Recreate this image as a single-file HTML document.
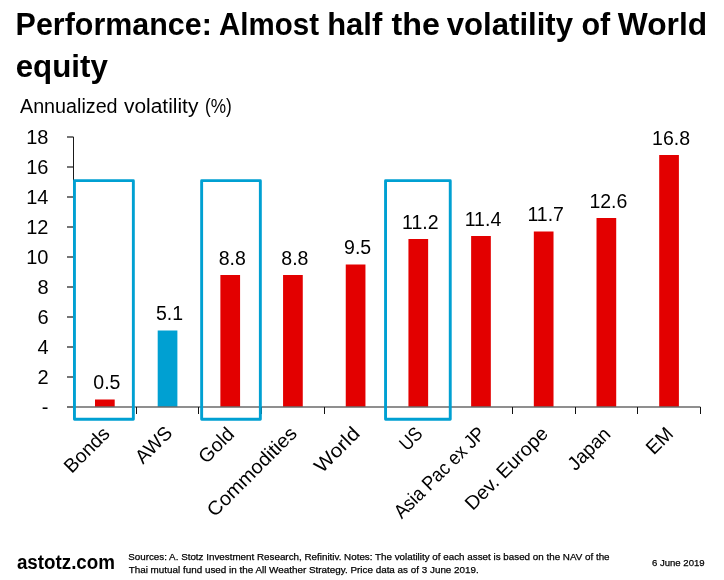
<!DOCTYPE html>
<html><head><meta charset="utf-8"><style>
html,body{margin:0;padding:0;background:#fff;}
body{width:724px;height:580px;overflow:hidden;position:relative;}
svg{position:absolute;left:0;top:0;will-change:transform;}
text{font-family:"Liberation Sans", sans-serif;fill:#000;}
</style></head><body>
<svg width="724" height="580" viewBox="0 0 724 580">
<line x1="67" y1="407.00" x2="73.5" y2="407.00" stroke="#3a3a3a" stroke-width="1.4"/>
<line x1="67" y1="377.00" x2="73.5" y2="377.00" stroke="#3a3a3a" stroke-width="1.4"/>
<line x1="67" y1="347.00" x2="73.5" y2="347.00" stroke="#3a3a3a" stroke-width="1.4"/>
<line x1="67" y1="317.00" x2="73.5" y2="317.00" stroke="#3a3a3a" stroke-width="1.4"/>
<line x1="67" y1="287.00" x2="73.5" y2="287.00" stroke="#3a3a3a" stroke-width="1.4"/>
<line x1="67" y1="257.00" x2="73.5" y2="257.00" stroke="#3a3a3a" stroke-width="1.4"/>
<line x1="67" y1="227.00" x2="73.5" y2="227.00" stroke="#3a3a3a" stroke-width="1.4"/>
<line x1="67" y1="197.00" x2="73.5" y2="197.00" stroke="#3a3a3a" stroke-width="1.4"/>
<line x1="67" y1="167.00" x2="73.5" y2="167.00" stroke="#3a3a3a" stroke-width="1.4"/>
<line x1="67" y1="137.00" x2="73.5" y2="137.00" stroke="#3a3a3a" stroke-width="1.4"/>
<rect x="95.00" y="399.50" width="19.7" height="7.50" fill="#e30000"/>
<rect x="157.69" y="330.50" width="19.7" height="76.50" fill="#00a0d2"/>
<rect x="220.38" y="275.00" width="19.7" height="132.00" fill="#e30000"/>
<rect x="283.06" y="275.00" width="19.7" height="132.00" fill="#e30000"/>
<rect x="345.75" y="264.50" width="19.7" height="142.50" fill="#e30000"/>
<rect x="408.44" y="239.00" width="19.7" height="168.00" fill="#e30000"/>
<rect x="471.13" y="236.00" width="19.7" height="171.00" fill="#e30000"/>
<rect x="533.82" y="231.50" width="19.7" height="175.50" fill="#e30000"/>
<rect x="596.51" y="218.00" width="19.7" height="189.00" fill="#e30000"/>
<rect x="659.20" y="155.00" width="19.7" height="252.00" fill="#e30000"/>
<line x1="73.5" y1="407" x2="700.4" y2="407" stroke="#6a6a6a" stroke-width="1.6"/>
<line x1="73.5" y1="137" x2="73.5" y2="407.0" stroke="#1a1a1a" stroke-width="1"/>
<line x1="136.50" y1="407.0" x2="136.50" y2="414" stroke="#111" stroke-width="1"/>
<line x1="198.50" y1="407.0" x2="198.50" y2="414" stroke="#111" stroke-width="1"/>
<line x1="261.50" y1="407.0" x2="261.50" y2="414" stroke="#111" stroke-width="1"/>
<line x1="324.50" y1="407.0" x2="324.50" y2="414" stroke="#111" stroke-width="1"/>
<line x1="386.50" y1="407.0" x2="386.50" y2="414" stroke="#111" stroke-width="1"/>
<line x1="449.50" y1="407.0" x2="449.50" y2="414" stroke="#111" stroke-width="1"/>
<line x1="512.50" y1="407.0" x2="512.50" y2="414" stroke="#111" stroke-width="1"/>
<line x1="575.50" y1="407.0" x2="575.50" y2="414" stroke="#111" stroke-width="1"/>
<line x1="637.50" y1="407.0" x2="637.50" y2="414" stroke="#111" stroke-width="1"/>
<line x1="700.50" y1="407.0" x2="700.50" y2="414" stroke="#111" stroke-width="1"/>
<rect x="74.45" y="180.65" width="58.90" height="238.60" fill="none" stroke="#00a0d2" stroke-width="2.9" stroke-linejoin="round"/>
<rect x="201.65" y="180.65" width="58.70" height="238.60" fill="none" stroke="#00a0d2" stroke-width="2.9" stroke-linejoin="round"/>
<rect x="385.55" y="180.65" width="64.70" height="238.60" fill="none" stroke="#00a0d2" stroke-width="2.9" stroke-linejoin="round"/>
<text id="tw0" font-size="31.7" font-weight="bold" textLength="196.2" lengthAdjust="spacingAndGlyphs" x="15.60" y="35.00">Performance:</text>
<text id="tw1" font-size="31.7" font-weight="bold" textLength="100.0" lengthAdjust="spacingAndGlyphs" x="219.00" y="35.00">Almost</text>
<text id="tw2" font-size="31.7" font-weight="bold" textLength="55.0" lengthAdjust="spacingAndGlyphs" x="327.20" y="35.00">half</text>
<text id="tw3" font-size="31.7" font-weight="bold" textLength="48.4" lengthAdjust="spacingAndGlyphs" x="391.60" y="35.00">the</text>
<text id="tw4" font-size="31.7" font-weight="bold" textLength="126.2" lengthAdjust="spacingAndGlyphs" x="446.80" y="35.00">volatility</text>
<text id="tw5" font-size="31.7" font-weight="bold" textLength="28.8" lengthAdjust="spacingAndGlyphs" x="581.40" y="35.00">of</text>
<text id="tw6" font-size="31.7" font-weight="bold" textLength="89.4" lengthAdjust="spacingAndGlyphs" x="617.80" y="35.00">World</text>
<text id="title2" font-size="31.7" font-weight="bold" textLength="92.1" lengthAdjust="spacingAndGlyphs" x="15.70" y="77.40">equity</text>
<text id="yw0" font-size="19.5" textLength="97.6" lengthAdjust="spacingAndGlyphs" x="20.00" y="112.90">Annualized</text>
<text id="yw1" font-size="19.5" textLength="74.4" lengthAdjust="spacingAndGlyphs" x="124.00" y="112.90">volatility</text>
<text id="yw2" font-size="19.5" textLength="26.8" lengthAdjust="spacingAndGlyphs" x="205.00" y="112.90">(%)</text>
<text id="y0" font-size="20" text-anchor="end" x="48.50" y="413.80">-</text>
<text id="y2" font-size="20" text-anchor="end" x="48.50" y="383.80">2</text>
<text id="y4" font-size="20" text-anchor="end" x="48.50" y="353.80">4</text>
<text id="y6" font-size="20" text-anchor="end" x="48.50" y="323.80">6</text>
<text id="y8" font-size="20" text-anchor="end" x="48.50" y="293.80">8</text>
<text id="y10" font-size="20" text-anchor="end" x="48.50" y="263.80">10</text>
<text id="y12" font-size="20" text-anchor="end" x="48.50" y="233.80">12</text>
<text id="y14" font-size="20" text-anchor="end" x="48.50" y="203.80">14</text>
<text id="y16" font-size="20" text-anchor="end" x="48.50" y="173.80">16</text>
<text id="y18" font-size="20" text-anchor="end" x="48.50" y="143.80">18</text>
<text id="v0" font-size="19.5" text-anchor="middle" x="106.84" y="389.20">0.5</text>
<text id="v1" font-size="19.5" text-anchor="middle" x="169.53" y="320.20">5.1</text>
<text id="v2" font-size="19.5" text-anchor="middle" x="232.22" y="264.70">8.8</text>
<text id="v3" font-size="19.5" text-anchor="middle" x="294.91" y="264.70">8.8</text>
<text id="v4" font-size="19.5" text-anchor="middle" x="357.61" y="254.20">9.5</text>
<text id="v5" font-size="19.5" text-anchor="middle" x="420.29" y="228.70">11.2</text>
<text id="v6" font-size="19.5" text-anchor="middle" x="482.99" y="225.70">11.4</text>
<text id="v7" font-size="19.5" text-anchor="middle" x="545.67" y="221.20">11.7</text>
<text id="v8" font-size="19.5" text-anchor="middle" x="608.37" y="207.70">12.6</text>
<text id="v9" font-size="19.5" text-anchor="middle" x="671.05" y="144.70">16.8</text>
<text id="x0" font-size="19.5" text-anchor="end" textLength="55.15" lengthAdjust="spacingAndGlyphs" transform="translate(110.84,434.90) rotate(-45)">Bonds</text>
<text id="x1" font-size="19.5" text-anchor="end" textLength="42.93" lengthAdjust="spacingAndGlyphs" transform="translate(173.41,434.28) rotate(-45)">AWS</text>
<text id="x2" font-size="19.5" text-anchor="end" textLength="40.99" lengthAdjust="spacingAndGlyphs" transform="translate(235.35,435.42) rotate(-45)">Gold</text>
<text id="x3" font-size="19.5" text-anchor="end" textLength="117.69" lengthAdjust="spacingAndGlyphs" transform="translate(298.09,434.57) rotate(-45)">Commodities</text>
<text id="x4" font-size="19.5" text-anchor="end" textLength="55.11" lengthAdjust="spacingAndGlyphs" transform="translate(361.00,434.70) rotate(-45)">World</text>
<text id="x5" font-size="19.5" text-anchor="end" textLength="23.56" lengthAdjust="spacingAndGlyphs" transform="translate(423.79,435.00) rotate(-45)">US</text>
<text id="x6" font-size="19.5" text-anchor="end" textLength="120.04" lengthAdjust="spacingAndGlyphs" transform="translate(486.51,434.72) rotate(-45)">Asia Pac ex JP</text>
<text id="x7" font-size="19.5" text-anchor="end" textLength="108.15" lengthAdjust="spacingAndGlyphs" transform="translate(549.20,434.82) rotate(-45)">Dev. Europe</text>
<text id="x8" font-size="19.5" text-anchor="end" textLength="51.23" lengthAdjust="spacingAndGlyphs" transform="translate(611.74,435.27) rotate(-45)">Japan</text>
<text id="x9" font-size="19.5" text-anchor="end" textLength="29.11" lengthAdjust="spacingAndGlyphs" transform="translate(674.36,435.00) rotate(-45)">EM</text>
<text id="astotz" font-size="20" font-weight="bold" textLength="98.1" lengthAdjust="spacingAndGlyphs" x="16.90" y="568.50">astotz.com</text>
<text id="src1" font-size="9.8" stroke="#000" stroke-width="0.25" textLength="481.4" lengthAdjust="spacingAndGlyphs" x="128.20" y="560.10">Sources: A. Stotz Investment Research, Refinitiv. Notes: The volatility of each asset is based on the NAV of the</text>
<text id="src2" font-size="9.8" stroke="#000" stroke-width="0.25" textLength="350.1" lengthAdjust="spacingAndGlyphs" x="128.70" y="572.80">Thai mutual fund used in the All Weather Strategy. Price data as of 3 June 2019.</text>
<text id="date" font-size="9.8" stroke="#000" stroke-width="0.25" textLength="52.8" lengthAdjust="spacingAndGlyphs" x="651.90" y="566.00">6 June 2019</text>
</svg>
</body></html>
